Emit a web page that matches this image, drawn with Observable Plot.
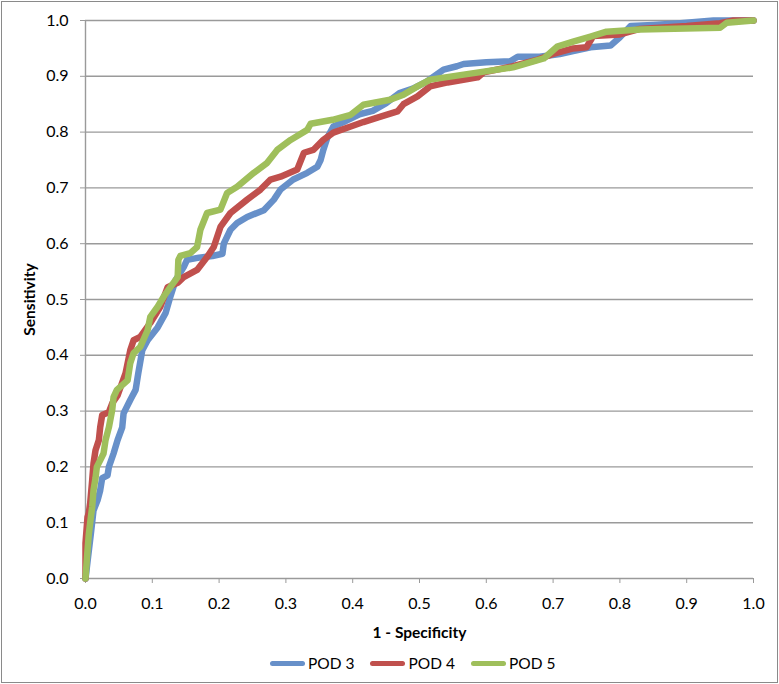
<!DOCTYPE html>
<html>
<head>
<meta charset="utf-8">
<script src="https://cdn.jsdelivr.net/npm/d3@7"></script>
<script src="https://cdn.jsdelivr.net/npm/@observablehq/plot@0.6"></script>
<style>
  html, body { margin: 0; padding: 0; background: #fff; }
  body { width: 779px; height: 684px; position: relative; overflow: hidden; font-family: Lato, "Open Sans", sans-serif; }
  #frame { position: absolute; left: 1px; top: 1px; width: 777px; height: 682px; box-sizing: border-box; border: 1.5px solid #8a8a8a; pointer-events: none; }
  #chart { position: absolute; left: 0; top: 0; }
  #legend { position: absolute; left: 270px; top: 652px; height: 22px; display: flex; align-items: center; font-size: 15.5px; color: #000; }
  .item { display: flex; align-items: center; margin-right: 16px; }
  .sw { width: 35px; height: 5px; border-radius: 3px; margin-right: 3px; }
</style>
</head>
<body>
<div id="chart"></div>
<div id="legend"></div>
<div id="frame"></div>
<script>
const seriesNames = ["POD 3", "POD 4", "POD 5"];
const seriesColors = ["#6790c9", "#c0504d", "#9fbf5b"];
const xTicks = [0, 0.1, 0.2, 0.3, 0.4, 0.5, 0.6, 0.7, 0.8, 0.9, 1.0];
const yTicks = [0, 0.1, 0.2, 0.3, 0.4, 0.5, 0.6, 0.7, 0.8, 0.9, 1.0];

const pod3X = [0, 0.004, 0.008, 0.012, 0.018, 0.022, 0.025, 0.033, 0.035, 0.042, 0.048, 0.055, 0.057, 0.067, 0.075, 0.079, 0.085, 0.093, 0.108, 0.12, 0.127, 0.135, 0.147, 0.152, 0.17, 0.19, 0.205, 0.207, 0.217, 0.227, 0.242, 0.267, 0.282, 0.292, 0.311, 0.332, 0.347, 0.352, 0.356, 0.362, 0.371, 0.39, 0.41, 0.43, 0.45, 0.47, 0.49, 0.51, 0.536, 0.556, 0.566, 0.60, 0.636, 0.647, 0.68, 0.71, 0.73, 0.756, 0.786, 0.80, 0.816, 0.85, 0.89, 0.94, 1.0];
const pod3Y = [0, 0.04, 0.08, 0.122, 0.14, 0.158, 0.18, 0.185, 0.2, 0.224, 0.248, 0.271, 0.296, 0.32, 0.338, 0.368, 0.409, 0.427, 0.45, 0.476, 0.505, 0.535, 0.558, 0.571, 0.575, 0.578, 0.582, 0.6, 0.625, 0.637, 0.648, 0.66, 0.679, 0.697, 0.715, 0.727, 0.738, 0.75, 0.768, 0.79, 0.81, 0.82, 0.832, 0.838, 0.852, 0.87, 0.878, 0.89, 0.912, 0.918, 0.922, 0.925, 0.927, 0.935, 0.935, 0.94, 0.945, 0.952, 0.955, 0.97, 0.99, 0.992, 0.995, 1.0, 1.0];

const pod4X = [0, 0, 0.003, 0.005, 0.007, 0.01, 0.012, 0.015, 0.02, 0.022, 0.025, 0.035, 0.04, 0.048, 0.06, 0.067, 0.072, 0.082, 0.097, 0.112, 0.123, 0.138, 0.147, 0.167, 0.182, 0.192, 0.202, 0.217, 0.242, 0.262, 0.277, 0.292, 0.317, 0.327, 0.341, 0.356, 0.371, 0.397, 0.416, 0.437, 0.467, 0.476, 0.497, 0.516, 0.542, 0.587, 0.596, 0.64, 0.677, 0.70, 0.73, 0.75, 0.76, 0.80, 0.83, 0.90, 0.95, 0.97, 1.0];
const pod4Y = [0, 0.063, 0.11, 0.118, 0.135, 0.176, 0.206, 0.23, 0.248, 0.271, 0.293, 0.298, 0.314, 0.328, 0.368, 0.409, 0.427, 0.433, 0.458, 0.487, 0.522, 0.53, 0.54, 0.553, 0.576, 0.594, 0.63, 0.655, 0.679, 0.697, 0.715, 0.72, 0.733, 0.763, 0.768, 0.786, 0.799, 0.81, 0.818, 0.826, 0.837, 0.85, 0.864, 0.882, 0.889, 0.898, 0.907, 0.918, 0.93, 0.94, 0.95, 0.952, 0.972, 0.975, 0.985, 0.99, 0.995, 1.0, 1.0];

const pod5X = [0, 0.003, 0.005, 0.007, 0.01, 0.012, 0.015, 0.017, 0.022, 0.027, 0.03, 0.035, 0.04, 0.042, 0.047, 0.063, 0.067, 0.072, 0.082, 0.093, 0.097, 0.108, 0.117, 0.127, 0.138, 0.139, 0.142, 0.157, 0.167, 0.172, 0.182, 0.202, 0.212, 0.227, 0.252, 0.272, 0.287, 0.307, 0.332, 0.337, 0.37, 0.397, 0.416, 0.456, 0.476, 0.497, 0.516, 0.566, 0.64, 0.686, 0.706, 0.73, 0.756, 0.78, 0.83, 0.95, 0.96, 1.0];
const pod5Y = [0, 0.05, 0.08, 0.1, 0.128, 0.158, 0.18, 0.2, 0.212, 0.224, 0.248, 0.271, 0.302, 0.325, 0.338, 0.355, 0.386, 0.404, 0.415, 0.445, 0.469, 0.487, 0.505, 0.522, 0.54, 0.571, 0.578, 0.583, 0.594, 0.625, 0.655, 0.661, 0.691, 0.702, 0.727, 0.745, 0.768, 0.786, 0.804, 0.815, 0.822, 0.831, 0.849, 0.858, 0.867, 0.882, 0.894, 0.903, 0.916, 0.932, 0.953, 0.962, 0.971, 0.98, 0.984, 0.987, 0.996, 1.0];

const allX = [pod3X, pod4X, pod5X];
const allY = [pod3Y, pod4Y, pod5Y];
const rows = [];
seriesNames.forEach((name, i) => {
  allX[i].forEach((x, j) => rows.push({series: name, x, y: allY[i][j]}));
});

const fmt = d3.format(".1f");
const gray = "#9a9a9a";

const chart = Plot.plot({
  width: 779,
  height: 650,
  marginLeft: 85,
  marginRight: 26,
  marginTop: 20,
  marginBottom: 72,
  style: {fontFamily: "Lato, 'Open Sans', sans-serif", fontSize: "16px", color: "#000", background: "transparent"},
  x: {domain: [0, 1]},
  y: {domain: [0, 1]},
  color: {domain: seriesNames, range: seriesColors},
  marks: [
    Plot.gridY(yTicks.slice(1), {stroke: gray, strokeOpacity: 1, strokeWidth: 1.4}),
    Plot.ruleX([0], {stroke: gray, strokeWidth: 1.4}),
    Plot.ruleY([0], {stroke: gray, strokeWidth: 1.4}),
    Plot.axisY(yTicks, {tickSize: 5, tickPadding: 12, tickFormat: fmt, stroke: gray, fill: "#000", fontSize: 16, label: null}),
    Plot.axisX(xTicks, {tickSize: 5, tickPadding: 14, tickFormat: fmt, stroke: gray, fill: "#000", fontSize: 16, label: null}),
    Plot.line(rows, {x: "x", y: "y", z: "series", stroke: "series", strokeWidth: 6.5, strokeLinejoin: "round", strokeLinecap: "round"}),
    Plot.text(["1 - Specificity"], {frameAnchor: "bottom", dy: 55, lineAnchor: "middle", textAnchor: "middle", fontWeight: "bold", fontSize: 15.5}),
    Plot.text(["Sensitivity"], {frameAnchor: "left", dx: -55, rotate: -90, textAnchor: "middle", fontWeight: "bold", fontSize: 15.5})
  ]
});
document.getElementById("chart").appendChild(chart);

const legend = document.getElementById("legend");
seriesNames.forEach((name, i) => {
  const item = document.createElement("div");
  item.className = "item";
  const sw = document.createElement("div");
  sw.className = "sw";
  sw.style.background = seriesColors[i];
  const label = document.createElement("span");
  label.textContent = name;
  item.appendChild(sw);
  item.appendChild(label);
  legend.appendChild(item);
});
</script>
</body>
</html>
